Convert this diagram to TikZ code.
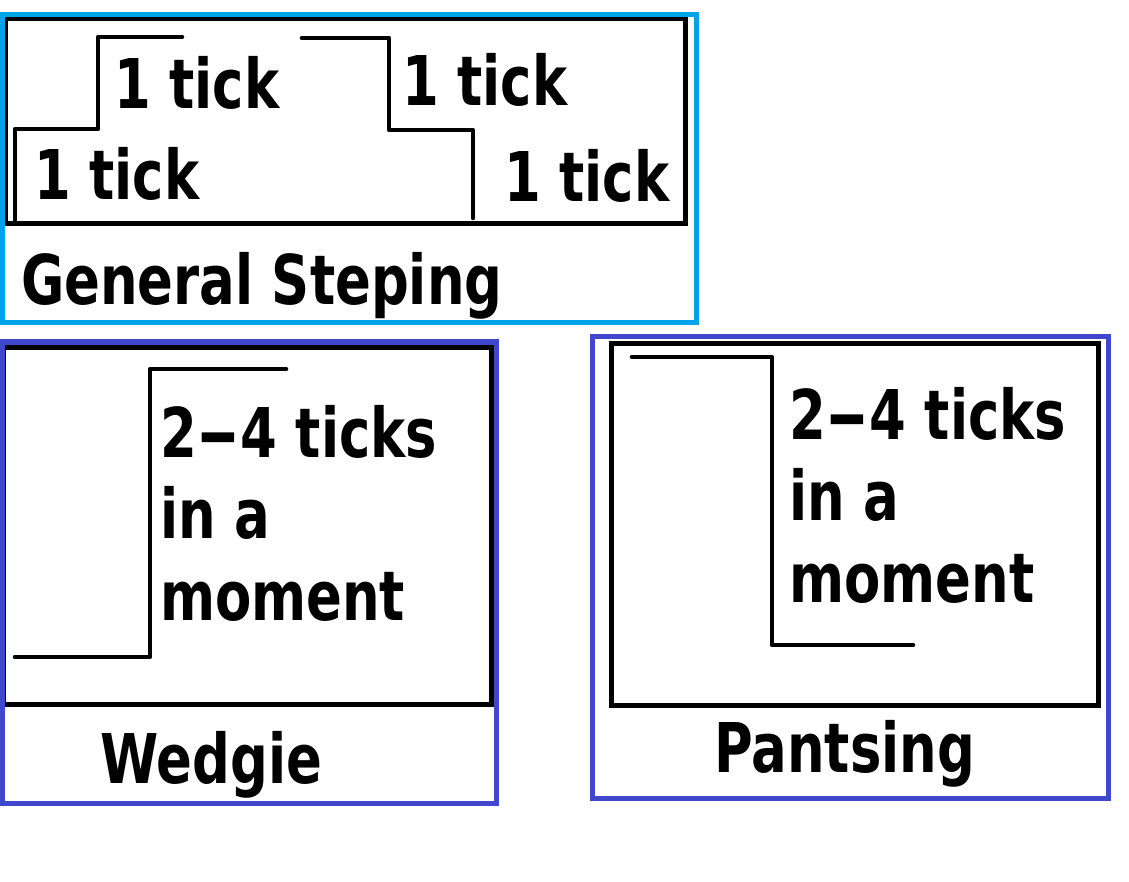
\documentclass[tikz,border=0pt]{standalone}
\usepackage{fontspec}
\setmainfont{DejaVu Sans}[FakeStretch=0.77]
\definecolor{skyblue}{RGB}{0,162,232}
\definecolor{indigoblue}{RGB}{63,72,204}
\newcommand{\widehyph}{\scalebox{2}[1]{-}}
\begin{document}
\begin{tikzpicture}[x=1pt,y=-1pt,
  lbl/.style={anchor=base west, inner sep=0pt, font=\bfseries\fontsize{68.6}{81.5}\selectfont, align=left},
  innerframe/.style={draw=black, line width=5pt},
  skyframe/.style={draw=skyblue, line width=5pt},
  indigoframe/.style={draw=indigoblue, line width=5pt},
  stepline/.style={draw=black, line width=4.6pt, line cap=round, line join=round}]
\useasboundingbox (0,0) rectangle (1129,882);
% ---- General Steping ----
\draw[innerframe] (5,19) rectangle (685,224);
\draw[stepline] (15,220) -- (15,129) -- (98,129) -- (98,37) -- (182,37);
\draw[stepline] (302,38) -- (389,38) -- (389,130) -- (473,130) -- (473,218);
\node[lbl] (ga) at (34,200) {1 tick};
\node[lbl] (gb) at (114,109) {1 tick};
\node[lbl] (gc) at (402,106) {1 tick};
\node[lbl] (gd) at (504,202) {1 tick};
\node[lbl] (gs) at (21,305) {General Steping};
\draw[skyframe] (2,15) rectangle (696,323);
% ---- Wedgie ----
\draw[innerframe] (3,347) rectangle (491,704);
\draw[stepline] (15,657) -- (150,657) -- (150,369) -- (286,369);
\node[lbl] (wt) at (160,620) {2\widehyph4 ticks\\in a\\moment};
\node[lbl] (wl) at (100,783) {Wedgie};
\draw[indigoframe] (2,342) rectangle (496,803);
% ---- Pantsing ----
\draw[innerframe] (611,343.5) rectangle (1098,705);
\draw[stepline] (632,357) -- (772,357) -- (772,645) -- (913,645);
\node[lbl] (pt) at (789,602) {2\widehyph4 ticks\\in a\\moment};
\node[lbl] (pl) at (714,772) {Pantsing};
\draw[indigoframe] (592,337) rectangle (1108,798);
\end{tikzpicture}
\end{document}
